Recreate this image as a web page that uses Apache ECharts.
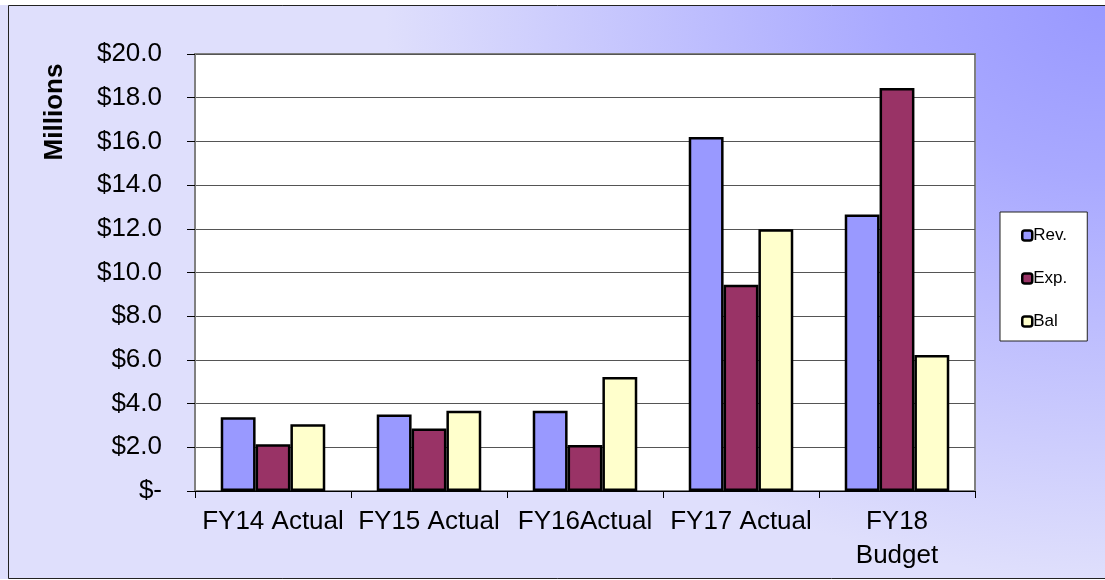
<!DOCTYPE html>
<html>
<head>
<meta charset="utf-8">
<script src="https://cdn.jsdelivr.net/npm/echarts@6/dist/echarts.min.js"></script>
<style>
  html, body { margin: 0; padding: 0; background: #fff; }
  #chart { width: 1105px; height: 580px; }
</style>
</head>
<body>
<div id="chart"></div>
<script>
var categories = ['FY14 Actual', 'FY15 Actual', 'FY16Actual', 'FY17 Actual', 'FY18\nBudget'];
var revenue = [3.37, 3.50, 3.67, 16.20, 12.65];
var expenses = [2.14, 2.86, 2.10, 9.44, 18.44];
var balance = [3.05, 3.67, 5.22, 11.98, 6.22];
var yTickLabels = ['$-', '$2.0', '$4.0', '$6.0', '$8.0', '$10.0', '$12.0', '$14.0', '$16.0', '$18.0', '$20.0'];

window.onload = function() {
    var chart = echarts.init(document.getElementById('chart'));

    var barBorder = { borderColor: '#000', borderWidth: 2.5 };

    var option = {
        animation: false,
        textStyle: { fontFamily: 'Liberation Sans, Arial, sans-serif' },
        graphic: [
            {
                // gradient background, an ellipse spreading from the top-right corner
                type: 'rect',
                z: -10,
                x: 1105,
                y: 5,
                scaleX: 720 / 574,
                shape: { x: -1200, y: 0, width: 1200, height: 574 },
                style: {
                    fill: {
                        type: 'radial', x: 1, y: 0, r: 1,
                        colorStops: [
                            { offset: 0, color: '#9999ff' },
                            { offset: 0.3, color: '#a9a9ff' },
                            { offset: 1, color: '#dfdffc' }
                        ]
                    }
                },
                silent: true
            },
            {
                type: 'rect',
                z: -9,
                shape: { x: 8.5, y: 5.5, width: 1110, height: 573 },
                style: { fill: null, stroke: '#222', lineWidth: 1 },
                silent: true
            },
            {
                type: 'text',
                x: 55,
                y: 112,
                rotation: Math.PI / 2,
                style: {
                    text: 'Millions',
                    fontSize: 26,
                    fontWeight: 'bold',
                    fontFamily: 'Liberation Sans, Arial, sans-serif',
                    fill: '#000',
                    align: 'center',
                    verticalAlign: 'middle'
                }
            }
        ],
        legend: {
            orient: 'vertical',
            left: 1000,
            top: 212,
            padding: [15, 20, 11, 21],
            itemGap: 26,
            itemWidth: 10,
            itemHeight: 10,
            itemStyle: { borderColor: '#000', borderWidth: 2.5 },
            backgroundColor: '#fff',
            borderColor: '#222',
            borderWidth: 1,
            textStyle: { fontSize: 17, color: '#000', padding: [0, 0, 0, -4] },
            data: ['Rev.', 'Exp.', 'Bal']
        },
        grid: {
            left: 195,
            right: 130,
            top: 54,
            bottom: 89,
            show: true,
            backgroundColor: '#fff',
            borderColor: '#808080',
            borderWidth: 2
        },
        xAxis: {
            type: 'category',
            data: categories,
            axisLine: { lineStyle: { color: '#000', width: 1 } },
            axisTick: { show: true, length: 7, lineStyle: { color: '#000' } },
            axisLabel: {
                fontSize: 26,
                color: '#000',
                margin: 14,
                lineHeight: 34,
                interval: 0
            }
        },
        yAxis: {
            type: 'value',
            min: 0,
            max: 20,
            interval: 2,
            axisLine: { show: true, lineStyle: { color: '#808080', width: 2 } },
            axisTick: { show: true, length: 8, lineStyle: { color: '#000' } },
            splitLine: { lineStyle: { color: '#555', width: 1 } },
            axisLabel: {
                fontSize: 26,
                color: '#000',
                margin: 33,
                formatter: function(v) { return yTickLabels[Math.round(v / 2)]; }
            }
        },
        series: [
            {
                name: 'Rev.',
                type: 'bar',
                data: revenue,
                barGap: '0%',
                barCategoryGap: '33%',
                itemStyle: Object.assign({ color: '#9999ff' }, barBorder)
            },
            {
                name: 'Exp.',
                type: 'bar',
                data: expenses,
                itemStyle: Object.assign({ color: '#993366' }, barBorder)
            },
            {
                name: 'Bal',
                type: 'bar',
                data: balance,
                itemStyle: Object.assign({ color: '#ffffcc' }, barBorder)
            }
        ]
    };

    chart.setOption(option);
};
</script>
</body>
</html>
